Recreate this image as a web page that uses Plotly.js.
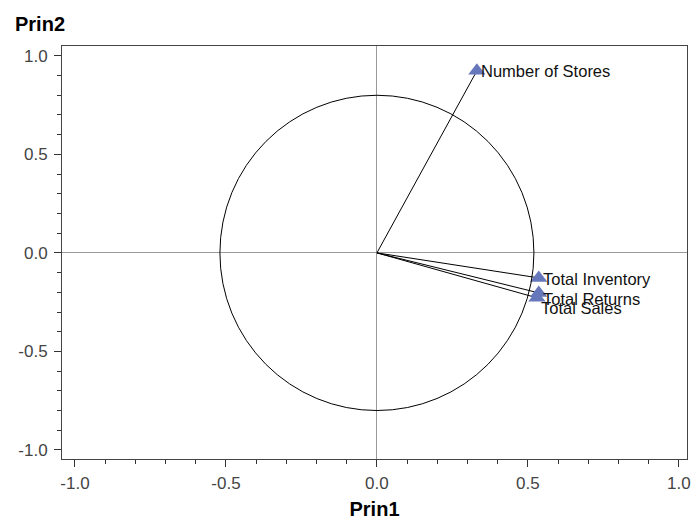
<!DOCTYPE html>
<html><head><meta charset="utf-8">
<script src="https://cdn.plot.ly/plotly-3.0.1.min.js"></script>
<style>html,body{margin:0;padding:0;background:#fff;}</style>
</head><body>
<div id="chart" style="width:693px;height:522px;"></div>
<script>
const variables = ["Number of Stores", "Total Inventory", "Total Returns", "Total Sales"];
const prin1 = [0.331, 0.536, 0.536, 0.530];
const prin2 = [0.924, -0.127, -0.203, -0.228];
const labelShift = [0, -1, -6, -10];
const tickVals = [-1.0, -0.5, 0.0, 0.5, 1.0];
const tickText = ["-1.0", "-0.5", "0.0", "0.5", "1.0"];
const circleRx = 0.52, circleRy = 0.80;

const lx = [], ly = [];
for (let i = 0; i < variables.length; i++) { lx.push(0, prin1[i], null); ly.push(0, prin2[i], null); }

const FONT = 'Liberation Sans, Arial, sans-serif';

const traces = [
  {x: lx, y: ly, mode: 'lines', line: {color: '#000', width: 1}, hoverinfo: 'skip', showlegend: false},
  {x: prin1, y: prin2, mode: 'markers', marker: {symbol: 'triangle-up', size: 15, color: '#6677BB', line: {width: 0}}, showlegend: false, text: variables}
];

const annotations = variables.map((v, i) => ({
  x: prin1[i], y: prin2[i], xref: 'x', yref: 'y', text: v, showarrow: false,
  xanchor: 'left', yanchor: 'middle', xshift: 2, yshift: labelShift[i],
  font: {family: FONT, size: 16.5, color: '#111'}
}));
annotations.push({xref: 'paper', yref: 'paper', x: -0.078, y: 1.053, xanchor: 'left', yanchor: 'middle', text: '<b>Prin2</b>', showarrow: false, font: {family: FONT, size: 20, color: '#000'}});

const axisCommon = {
  tickvals: tickVals, ticktext: tickText, ticks: 'outside', ticklen: 7, tickcolor: '#333', tickwidth: 1,
  minor: {ticks: 'outside', dtick: 0.1, ticklen: 4, tickcolor: '#333', tickwidth: 1, showgrid: false},
  showgrid: false, zeroline: true, zerolinecolor: '#999', zerolinewidth: 1,
  showline: true, mirror: true, linecolor: '#444', linewidth: 1,
  tickfont: {family: FONT, size: 17, color: '#444'}
};

const layout = {
  width: 693, height: 522,
  margin: {l: 62, r: 6, t: 46, b: 63},
  paper_bgcolor: '#fff', plot_bgcolor: '#fff',
  xaxis: Object.assign({}, axisCommon, {range: [-1.043, 1.027], ticklabelstandoff: 2,
    title: {text: '<b>Prin1</b>', standoff: 9, font: {family: FONT, size: 20, color: '#000'}}}),
  yaxis: Object.assign({}, axisCommon, {range: [-1.046, 1.05], ticklabelstandoff: 3}),
  shapes: [{type: 'circle', xref: 'x', yref: 'y', x0: -circleRx, x1: circleRx, y0: -circleRy, y1: circleRy, line: {color: '#000', width: 1}}],
  annotations: annotations
};

Plotly.newPlot('chart', traces, layout, {displayModeBar: false, staticPlot: true});
</script>
</body></html>
